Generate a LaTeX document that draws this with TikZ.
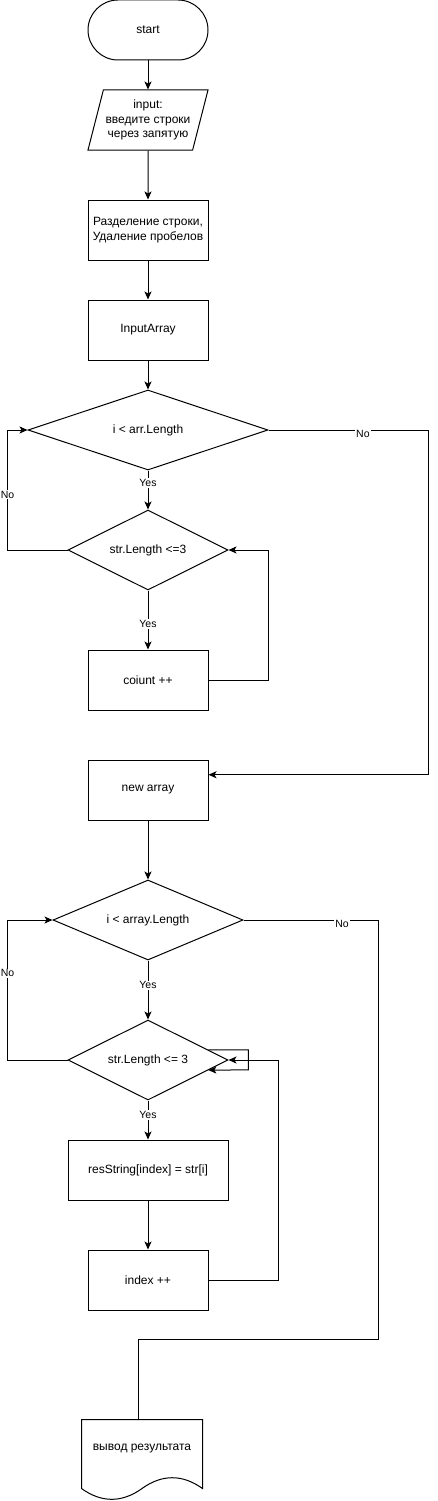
\documentclass[tikz,border=0pt]{standalone}
\usepackage{fontspec}
\setmainfont{Liberation Sans}
\usepackage{tikz}
\usetikzlibrary{shapes.geometric, arrows, arrows.meta, calc}
\tikzstyle{startstop} = [rectangle, rounded corners=30pt, minimum width=120pt, minimum height=60pt, text centered, draw=black]
\tikzstyle{io} = [trapezium, trapezium left angle=70, trapezium right angle=110, trapezium stretches body, minimum width=120pt, minimum height=60pt, inner sep=1pt, align=center, draw=black]
\tikzstyle{process} = [rectangle, minimum width=120pt, minimum height=60pt, align=center, draw=black]
\tikzstyle{decision} = [diamond, aspect=3, minimum width=160pt, minimum height=80pt, inner sep=0pt, text centered, draw=black]
\tikzstyle{doc} = [rectangle, minimum width=120pt, minimum height=56pt, text centered]
\tikzstyle{arrow} = [->,>={Stealth[length=8pt, width=7pt, inset=2pt]}]
\tikzstyle{lbl} = [fill=white, inner sep=1pt, font=\fontsize{10.5pt}{12pt}\selectfont]

\begin{document}
\begin{tikzpicture}[x=1pt, y=1pt, node distance=110pt, line width=1pt, font=\fontsize{12pt}{14.5pt}\selectfont]
            \useasboundingbox (0,0) rectangle (438,-1501);
            % Nodes
            \node (start) [startstop] at (148,-30) {start};
            \node (in1) [io, below of=start, yshift=20pt] {input:\\введите строки\\через запятую};
            \node (split) [process, below of=in1] {Разделение строки,\\Удаление пробелов};
            \node (inarr) [process, below of=split, yshift=10pt] {InputArray};
            \node (dec1) [decision, below of=inarr, yshift=10pt, minimum width=240pt] {i < arr.Length};
            \node (dec2) [decision, below of=dec1, yshift=-10pt] {str.Length <=3};
            \node (count) [process, below of=dec2, yshift=-20pt] {coiunt ++};
            \node (newarr) [process, below of=count] {new array};
            \node (dec3) [decision, below of=newarr, yshift=-20pt, minimum width=190pt] {i < array.Length};
            \node (dec4) [decision, below of=dec3, yshift=-30pt] {str.Length <= 3};
            \node (res) [process, below of=dec4, minimum width=160pt] {resString[index] = str[i]};
            \node (idx) [process, below of=res] {index ++};
            \node (out) [doc, below of=idx, yshift=-58pt, xshift=-6pt] {вывод результата};

            % Output shape
            \draw ($(out.south west)+(0,-12)$) -- (out.north west) -- (out.north east) -- ($(out.south east)+(0,-12)$) .. controls +(-20,14.4) and +(20,14.4) .. ($(out.south)+(0,-12)$) .. controls +(-20,-14.4) and +(20,-14.4) .. ($(out.south west)+(0,-12)$) -- cycle;

            % Arrows
            \draw [arrow] (start) -- (in1);
            \draw [arrow] (in1) -- (split);
            \draw [arrow] (split) -- (inarr);
            \draw [arrow] (inarr) -- (dec1);
            \draw [arrow] (dec1) -- node[lbl, pos=0.32] {Yes} (dec2);
            \draw [arrow] (dec2.west) -- ++(-60,0) |- node[lbl, pos=0.23] {No} (dec1.west);
            \draw [arrow] (dec2) -- node[lbl, pos=0.57] {Yes} (count);
            \draw [arrow] (count.east) -- ++(60,0) |- (dec2.east);
            \draw [arrow] (dec1.east) -- node[lbl, pos=0.59, yshift=-4pt] {No} ++(160,0) |- ($(newarr.north east)!0.25!(newarr.south east)$);
            \draw [arrow] (newarr) -- (dec3);
            \draw [arrow] (dec3) -- node[lbl, pos=0.42] {Yes} (dec4);
            \draw [arrow] (dec4.west) -- ++(-60,0) |- node[lbl, pos=0.31] {No} (dec3.west);
            \draw [arrow] ($(dec4.north)!0.75!(dec4.east)$) -- ++(40,0) -- ++(0,-20) -- ($(dec4.south)!0.75!(dec4.east)$);
            \draw [arrow] (dec4) -- node[lbl, pos=0.375] {Yes} (res);
            \draw [arrow] (res) -- (idx);
            \draw [arrow] (idx.east) -- ++(70,0) |- (dec4.east);
            \draw (dec3.east) -- node[lbl, pos=0.73, yshift=-4pt] {No} ++(135,0) |- ($(out.north)+(-4,80)$) -- ($(out.north)+(-4,0)$);
        \end{tikzpicture}
\end{document}
